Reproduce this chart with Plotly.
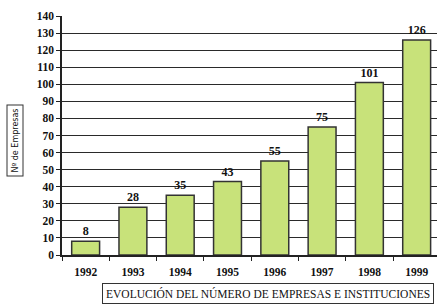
import plotly.graph_objects as go

years = ["1992", "1993", "1994", "1995", "1996", "1997", "1998", "1999"]
empresas = [8, 28, 35, 43, 55, 75, 101, 126]
y_ticks = list(range(0, 141, 10))

W, H = 437, 305
L, R, T, B = 62, 0, 16, 50
PW, PH = W - L - R, H - T - B

fig = go.Figure()
fig.add_trace(go.Bar(
    x=years, y=empresas,
    marker=dict(color="#c8e27a", line=dict(color="#333333", width=1.5)),
    text=[str(v) for v in empresas],
    textposition="outside",
    textfont=dict(family="Liberation Serif", size=12, color="#111111"),
    texttemplate="<b>%{text}</b>",
    cliponaxis=False,
    hoverinfo="skip",
))

fig.update_layout(
    width=W, height=H,
    margin=dict(l=L, r=R, t=T, b=B),
    paper_bgcolor="white", plot_bgcolor="white",
    bargap=0.41,
    showlegend=False,
    font=dict(family="Liberation Serif", color="#111111"),
)
fig.update_xaxes(
    type="category",
    range=[-0.5, 7.43],
    showline=True, linecolor="#222222", linewidth=1.5,
    ticks="outside", tickson="boundaries", ticklen=4, tickcolor="#222222",
    tickfont=dict(family="Liberation Serif", size=11.5, color="#111111"),
    ticktext=[f"<b>{y}</b>" for y in years], tickvals=years,
    ticklabelstandoff=5,
    showgrid=False,
)
fig.update_yaxes(
    range=[0, 140],
    tickvals=y_ticks,
    ticktext=[f"<b>{v}</b>" for v in y_ticks],
    showline=True, linecolor="#222222", linewidth=1.5,
    ticks="outside", ticklen=4, tickcolor="#222222",
    tickfont=dict(family="Liberation Serif", size=11.5, color="#111111"),
    showgrid=True, gridcolor="#2a2a2a", gridwidth=1.3,
    zeroline=False,
)

fig.add_annotation(
    text="Nº de Empresas", textangle=-90,
    xref="paper", yref="paper",
    x=(14.5 - L) / PW, y=(H - B - 140) / PH,
    xanchor="center", yanchor="middle",
    showarrow=False,
    font=dict(family="DejaVu Sans", size=8, color="#111111"),
    bordercolor="#333333", borderwidth=1, borderpad=3, bgcolor="white",
)
fig.add_annotation(
    text="EVOLUCIÓN DEL NÚMERO DE EMPRESAS E INSTITUCIONES",
    xref="paper", yref="paper",
    x=(268 - L) / PW, y=-(283 - (H - B)) / PH,
    xanchor="center", yanchor="top",
    showarrow=False,
    font=dict(family="Liberation Serif", size=11.5, color="#111111"),
    bordercolor="#333333", borderwidth=1, borderpad=3, bgcolor="white",
)

fig.write_html("out.html", config={"displayModeBar": False},
               post_script="document.body.style.margin='0';")
